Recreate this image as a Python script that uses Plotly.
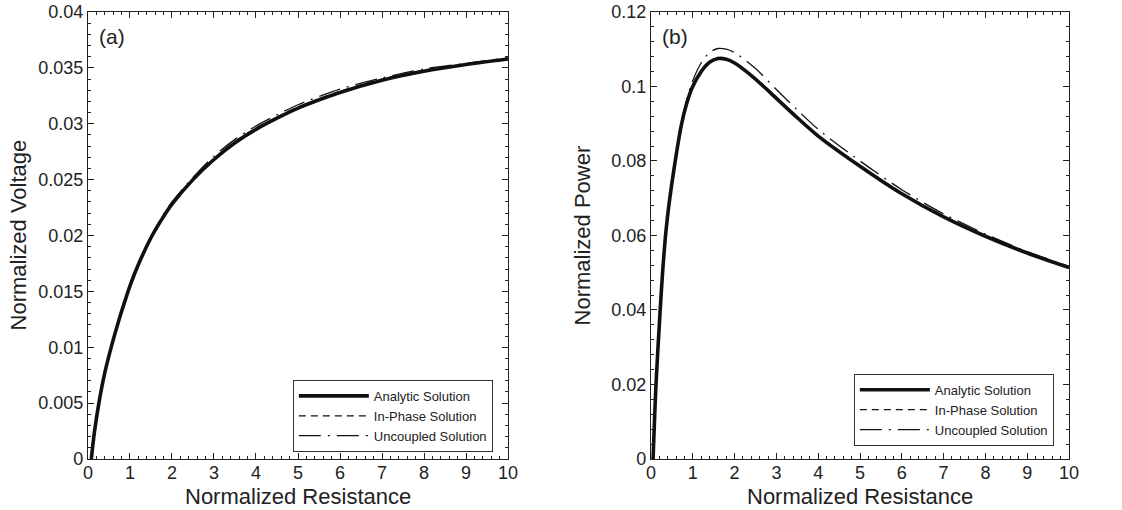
import plotly.graph_objects as go

# ---------------- data ----------------
# Panel (a): normalized voltage vs normalized resistance
r_a = [0.08, 0.15, 0.26, 0.4, 0.56, 0.75, 0.92, 1.0, 1.2, 1.5, 1.75, 2.0, 2.5,
       3.0, 3.5, 4.0, 4.5, 5.0, 6.0, 7.0, 8.0, 9.0, 10.0]
v_analytic = [0.0, 0.0023, 0.0050, 0.0077, 0.0101, 0.0126, 0.0146, 0.0155,
              0.0174, 0.0198, 0.0214, 0.0228, 0.0250, 0.0268, 0.0283, 0.0295,
              0.0305, 0.0314, 0.0328, 0.0339, 0.0347, 0.0353, 0.0358]
v_inphase = [0.0, 0.0023, 0.0050, 0.0077, 0.0101, 0.0126, 0.0146, 0.0155,
             0.0174, 0.0198, 0.0215, 0.0229, 0.0251, 0.0269, 0.0284, 0.0296,
             0.0306, 0.0315, 0.0329, 0.0340, 0.0348, 0.0353, 0.0358]
v_uncoupled = [0.0, 0.0023, 0.0050, 0.0077, 0.0101, 0.0126, 0.0146, 0.0155,
               0.0174, 0.0199, 0.0216, 0.0230, 0.0252, 0.0271, 0.0286, 0.0298,
               0.0308, 0.0317, 0.0331, 0.0341, 0.0349, 0.0354, 0.0359]

# Panel (b): normalized power vs normalized resistance
r_b = [0.05, 0.12, 0.22, 0.28, 0.34, 0.4, 0.45, 0.5, 0.58, 0.72, 0.85, 0.99,
       1.2, 1.4, 1.6, 1.8, 2.0, 2.5, 3.0, 3.5, 4.0, 5.0, 6.0, 7.0, 8.0, 9.0, 10.0]
p_analytic = [0.0, 0.0200, 0.0400, 0.0505, 0.0590, 0.0655, 0.0700, 0.0740,
              0.0800, 0.0893, 0.0953, 0.0998, 0.1040, 0.1065, 0.1075, 0.1073,
              0.1063, 0.1020, 0.0968, 0.0916, 0.0867, 0.0786, 0.0712, 0.0650,
              0.0598, 0.0553, 0.0514]
p_inphase = [0.0, 0.0200, 0.0400, 0.0505, 0.0590, 0.0655, 0.0700, 0.0740,
             0.0800, 0.0893, 0.0953, 0.0998, 0.1041, 0.1066, 0.1076, 0.1074,
             0.1064, 0.1022, 0.0970, 0.0918, 0.0869, 0.0788, 0.0714, 0.0651,
             0.0599, 0.0554, 0.0515]
p_uncoupled = [0.0, 0.0200, 0.0400, 0.0505, 0.0590, 0.0655, 0.0700, 0.0740,
               0.0800, 0.0893, 0.0962, 0.1013, 0.1063, 0.1091, 0.1102, 0.1100,
               0.1091, 0.1048, 0.0992, 0.0937, 0.0885, 0.0800, 0.0723, 0.0658,
               0.0604, 0.0557, 0.0517]

series_names = ["Analytic Solution", "In-Phase Solution", "Uncoupled Solution"]

x_tickvals = [0, 1, 2, 3, 4, 5, 6, 7, 8, 9, 10]
x_ticktext = ["0", "1", "2", "3", "4", "5", "6", "7", "8", "9", "10"]
ya_tickvals = [0, 0.005, 0.01, 0.015, 0.02, 0.025, 0.03, 0.035, 0.04]
ya_ticktext = ["0", "0.005", "0.01", "0.015", "0.02", "0.025", "0.03", "0.035", "0.04"]
yb_tickvals = [0, 0.02, 0.04, 0.06, 0.08, 0.1, 0.12]
yb_ticktext = ["0", "0.02", "0.04", "0.06", "0.08", "0.1", "0.12"]

# ---------------- styles ----------------
FONT = "Liberation Sans, Arial, sans-serif"
INK = "#222222"
styles = [
    dict(color="#111111", width=3.6, dash="solid"),
    dict(color="#111111", width=1.3, dash="7px,5px"),
    dict(color="#111111", width=1.3, dash="22px,7px,2px,7px"),
]

fig = go.Figure()

for name, ys, st in zip(series_names, [v_analytic, v_inphase, v_uncoupled], styles):
    fig.add_trace(go.Scatter(x=r_a, y=ys, mode="lines", name=name,
                             line=dict(shape="spline", smoothing=0.8, **st),
                             xaxis="x", yaxis="y", legend="legend"))

for name, ys, st in zip(series_names, [p_analytic, p_inphase, p_uncoupled], styles):
    fig.add_trace(go.Scatter(x=r_b, y=ys, mode="lines", name=name,
                             line=dict(shape="spline", smoothing=0.8, **st),
                             xaxis="x2", yaxis="y2", legend="legend2"))


def xaxis(domain, anchor):
    return dict(domain=domain, anchor=anchor, range=[0, 10],
                tickvals=x_tickvals, ticktext=x_ticktext,
                ticks="inside", ticklen=6, tickcolor=INK, showline=True,
                linecolor=INK, linewidth=1, mirror="allticks", showgrid=False,
                zeroline=False, automargin=False, ticklabelstandoff=-3,
                minor=dict(ticks="inside", ticklen=3, dtick=0.2, tickcolor=INK,
                           showgrid=False),
                tickfont=dict(size=18, color=INK, family=FONT))


def yaxis(domain, rng, tv, tt, mdt, anchor):
    return dict(domain=domain, range=rng, tickvals=tv, ticktext=tt, anchor=anchor,
                ticks="inside", ticklen=6, tickcolor=INK, showline=True,
                linecolor=INK, linewidth=1, mirror="allticks", showgrid=False,
                zeroline=False, automargin=False,
                minor=dict(ticks="inside", ticklen=3, dtick=mdt, tickcolor=INK,
                           showgrid=False),
                tickfont=dict(size=18, color=INK, family=FONT))


legend_common = dict(bgcolor="white", bordercolor="#333", borderwidth=1,
                     font=dict(size=13, color=INK, family=FONT),
                     xanchor="left", yanchor="top", tracegroupgap=0,
                     itemwidth=70)

title_font = dict(size=22, color=INK, family=FONT)
label_font = dict(size=21, color=INK, family=FONT)

Y_DOM = [0.10, 0.9765]

fig.update_layout(
    width=1122, height=510, autosize=False,
    margin=dict(l=0, r=0, t=0, b=0),
    paper_bgcolor="white", plot_bgcolor="white",
    font=dict(family=FONT, color=INK),
    xaxis=xaxis([0.0784, 0.4528], "y"),
    yaxis=yaxis(Y_DOM, [0, 0.04], ya_tickvals, ya_ticktext, 0.001, "x"),
    xaxis2=xaxis([0.5802, 0.9528], "y2"),
    yaxis2=yaxis(Y_DOM, [0, 0.12], yb_tickvals, yb_ticktext, 0.004, "x2"),
    legend=dict(x=0.261, y=0.255, **legend_common),
    legend2=dict(x=0.761, y=0.267, **legend_common),
    showlegend=True,
    annotations=[
        dict(text="(a)", xref="x domain", yref="y domain", x=0.021, y=0.975,
             xanchor="left", yanchor="top", showarrow=False, font=label_font),
        dict(text="(b)", xref="x2 domain", yref="y2 domain", x=0.021, y=0.975,
             xanchor="left", yanchor="top", showarrow=False, font=label_font),
        dict(text="Normalized Resistance", xref="x domain", yref="paper",
             x=0.5, y=1 - 496 / 510, xanchor="center", yanchor="middle",
             showarrow=False, font=title_font),
        dict(text="Normalized Resistance", xref="x2 domain", yref="paper",
             x=0.5, y=1 - 496 / 510, xanchor="center", yanchor="middle",
             showarrow=False, font=title_font),
        dict(text="Normalized Voltage", xref="paper", yref="y domain",
             x=18 / 1122, y=0.5, xanchor="center", yanchor="middle",
             textangle=-90, showarrow=False, font=title_font),
        dict(text="Normalized Power", xref="paper", yref="y2 domain",
             x=582 / 1122, y=0.5, xanchor="center", yanchor="middle",
             textangle=-90, showarrow=False, font=title_font),
    ],
)

fig.write_html(
    "out.html",
    config={"displayModeBar": False},
    post_script="document.body.style.margin='0';document.body.style.padding='0';",
)
